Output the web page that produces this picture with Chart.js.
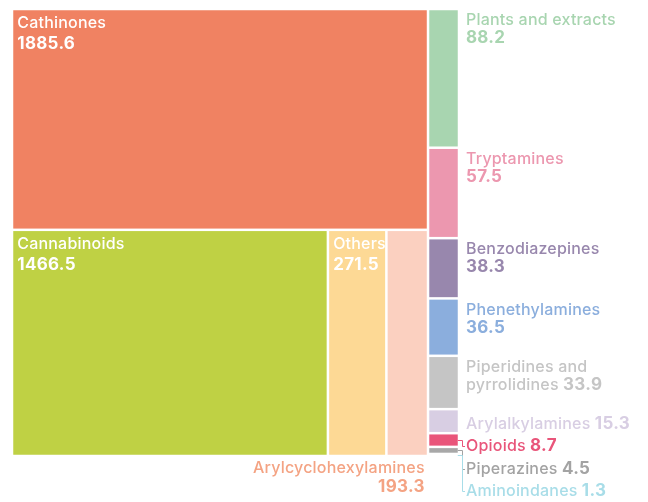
<!DOCTYPE html>
<html>
<head>
<meta charset="utf-8">
<script src="https://cdn.jsdelivr.net/npm/chart.js@4.4.0/dist/chart.umd.min.js"></script>
<style>
  html, body { margin: 0; padding: 0; background: #fff; }
  canvas { display: block; }
</style>
</head>
<body>
<canvas id="treeChart" width="648" height="502"></canvas>
<script>
// data
const categories = ['Cathinones', 'Cannabinoids', 'Others', 'Arylcyclohexylamines', 'Plants and extracts',
  'Tryptamines', 'Benzodiazepines', 'Phenethylamines', 'Piperidines and pyrrolidines', 'Arylalkylamines',
  'Opioids', 'Piperazines', 'Aminoindanes'];
const values = [1885.6, 1466.5, 271.5, 193.3, 88.2, 57.5, 38.3, 36.5, 33.9, 15.3, 8.7, 4.5, 1.3];

const cellColors = ['#f08262', '#bfd144', '#fdd995', '#fbd0c0', '#a8d5b0', '#ec97af', '#9887ad',
  '#8baedd', '#c5c5c5', '#d8cee3', '#e9557a', '#a8a8a8', '#a8dde8'];
const labelColors = ['#ffffff', '#ffffff', '#ffffff', '#f4a383', '#a8d5b0', '#ec97af', '#9887ad',
  '#8baedd', '#c5c5c5', '#d8cee3', '#e9557a', '#a3a3a3', '#a8dde8'];

// grouping of the cells: 'x' = side by side, 'y' = stacked
const groups = { dir: 'x', items: [
  { dir: 'y', items: [0, { dir: 'x', items: [1, 2, 3] }] },
  { dir: 'y', items: [4, 5, 6, 7, 8, 9, 10, 11, 12] }
]};

const FONT = 'Inter, Roboto, sans-serif';

function sumOf(node) {
  return typeof node === 'number' ? values[node] : node.items.reduce((a, n) => a + sumOf(n), 0);
}

// slice / dice layout in data units (0..1 on both axes)
function layout(node, x0, y0, x1, y1, out) {
  if (typeof node === 'number') { out[node] = { x0, y0, x1, y1 }; return; }
  const total = sumOf(node);
  let pos = node.dir === 'x' ? x0 : y0;
  node.items.forEach(n => {
    const span = (node.dir === 'x' ? x1 - x0 : y1 - y0) * sumOf(n) / total;
    if (node.dir === 'x') layout(n, pos, y0, pos + span, y1, out);
    else layout(n, x0, pos, x1, pos + span, out);
    pos += span;
  });
}

function fmt(v) { return v.toFixed(1); }

function wrapWords(ctx, text, maxW) {
  const words = text.split(' ');
  const lines = [];
  let cur = '';
  words.forEach(w => {
    const test = cur ? cur + ' ' + w : w;
    if (ctx.measureText(test).width > maxW && cur) { lines.push(cur); cur = w; }
    else cur = test;
  });
  lines.push(cur);
  return lines;
}

const treemapPlugin = {
  id: 'treemap',
  afterDraw(chart) {
    const { ctx, scales: { x, y } } = chart;
    const cells = [];
    layout(groups, 0, 0, 1, 1, cells);
    const gap = 1.25;
    const px = cells.map(c => ({
      l: x.getPixelForValue(c.x0), r: x.getPixelForValue(c.x1),
      t: y.getPixelForValue(c.y0), b: y.getPixelForValue(c.y1),
      side: c.x1 > 0.999
    }));

    ctx.save();
    px.forEach((c, i) => {
      const w = c.r - c.l - 2 * gap, h = c.b - c.t - 2 * gap;
      if (w <= 0 || h <= 0) return;
      ctx.fillStyle = cellColors[i];
      ctx.fillRect(c.l + gap, c.t + gap, w, h);
    });

    ctx.textBaseline = 'alphabetic';
    const nameFont = '500 16px ' + FONT, valFont = 'bold 17px ' + FONT;
    const setName = () => { ctx.font = nameFont; ctx.letterSpacing = '0.2px'; };
    const setVal = () => { ctx.font = valFont; ctx.letterSpacing = '0.3px'; };
    const labelX = chart.chartArea.right + 7;
    const maxW = chart.width - labelX - 4;
    let prevBase = -Infinity;

    px.forEach((c, i) => {
      const w = c.r - c.l, h = c.b - c.t;
      ctx.fillStyle = labelColors[i];
      if (!c.side && w >= 50) {
        // label inside the cell
        ctx.textAlign = 'left';
        setName();
        ctx.fillText(categories[i], c.l + gap + 4, c.t + gap + 18);
        setVal();
        ctx.fillText(fmt(values[i]), c.l + gap + 4, c.t + gap + 39);
      } else if (!c.side) {
        // narrow cell: label under the chart, right aligned
        ctx.textAlign = 'right';
        setName();
        ctx.fillText(categories[i], c.r - gap - 2, c.b + 17);
        setVal();
        ctx.fillText(fmt(values[i]), c.r - gap - 2, c.b + 36);
      } else {
        // side column: label to the right of the cell
        ctx.textAlign = 'left';
        setName();
        const nameLines = wrapWords(ctx, categories[i], maxW);
        const lines = nameLines.map(s => [{ text: s, bold: false }]);
        const valText = fmt(values[i]);
        if (nameLines.length === 1 && h >= 50) {
          lines.push([{ text: valText, bold: true }]);
        } else {
          lines[lines.length - 1].push({ text: ' ' + valText, bold: true });
        }
        const lineH = 18;
        const blockH = lines.length * lineH;
        const cy = (c.t + c.b) / 2;
        // tall enough -> top aligned, otherwise centred on the cell
        const desired = h >= blockH + 10 ? c.t + gap + 15 : cy + 7.5;
        const base = Math.max(desired, prevBase + 22.5);
        if (base - desired > 2) {
          ctx.strokeStyle = labelColors[i];
          ctx.lineWidth = 1;
          const ex = c.r + 3.5;
          ctx.beginPath();
          ctx.moveTo(c.r - gap, Math.round(cy) + 0.5);
          ctx.lineTo(ex, Math.round(cy) + 0.5);
          ctx.lineTo(ex, Math.round(base - 5) + 0.5);
          ctx.lineTo(labelX - 1, Math.round(base - 5) + 0.5);
          ctx.stroke();
        }
        lines.forEach((segs, k) => {
          let xx = labelX;
          segs.forEach(s => {
            if (s.bold) setVal(); else setName();
            ctx.fillText(s.text, xx, base + k * lineH);
            xx += ctx.measureText(s.text).width;
          });
        });
        prevBase = base + (lines.length - 1) * lineH;
      }
    });
    ctx.restore();
  }
};

new Chart(document.getElementById('treeChart'), {
  type: 'scatter',
  data: { datasets: [{ data: [] }] },
  options: {
    responsive: false,
    animation: false,
    layout: { padding: { left: 12, top: 9, right: 189, bottom: 46 } },
    scales: {
      x: { type: 'linear', min: 0, max: 1, display: false },
      y: { type: 'linear', min: 0, max: 1, reverse: true, display: false }
    },
    plugins: { legend: { display: false }, tooltip: { enabled: false } }
  },
  plugins: [treemapPlugin]
});
</script>
</body>
</html>
